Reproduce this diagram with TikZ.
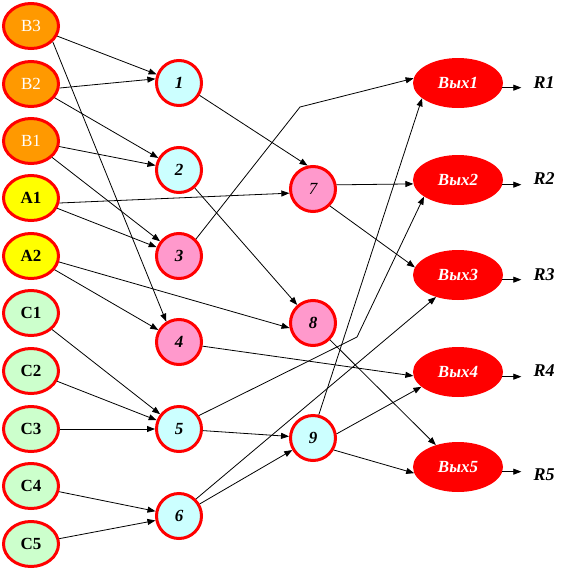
\documentclass[tikz,border=0pt]{standalone}
\usepackage{fontspec}
\setmainfont{Liberation Serif}
\usetikzlibrary{shapes.geometric,arrows.meta}
\definecolor{orng}{HTML}{FF9900}
\definecolor{yell}{HTML}{FFFF00}
\definecolor{grn}{HTML}{CCFFCC}
\definecolor{cyn}{HTML}{CCFFFF}
\definecolor{pnk}{HTML}{FF99CC}

\begin{document}
\begin{tikzpicture}[x=1pt,y=-1pt,
  inp/.style={ellipse,draw=red,line width=3pt,minimum width=55pt,minimum height=45pt,inner sep=0pt,font=\fontsize{17}{17}\selectfont\bfseries},
  hid/.style={circle,draw=red,line width=3pt,minimum size=45pt,inner sep=0pt,font=\fontsize{17}{17}\selectfont\bfseries\itshape},
  outp/.style={ellipse,fill=red,minimum width=90pt,minimum height=50pt,inner sep=0pt,text=white,font=\fontsize{17}{17}\selectfont\bfseries\itshape},
  res/.style={inner xsep=12pt,inner ysep=0pt,font=\fontsize{18}{18}\selectfont\bfseries\itshape},
  arr/.style={-{Triangle[length=8pt,width=6pt]},line width=0.8pt}]
\useasboundingbox (0,0) rectangle (570,571);

% inputs
\node[inp,fill=orng,text=white,font=\fontsize{17}{17}\selectfont] (b3) at (31,26) {B3};
\node[inp,fill=orng,text=white,font=\fontsize{17}{17}\selectfont] (b2) at (31,84) {B2};
\node[inp,fill=orng,text=white,font=\fontsize{17}{17}\selectfont] (b1) at (31,141) {B1};
\node[inp,fill=yell] (a1) at (31,198) {A1};
\node[inp,fill=yell] (a2) at (31,256) {A2};
\node[inp,fill=grn] (c1) at (31,313) {C1};
\node[inp,fill=grn] (c2) at (31,371) {C2};
\node[inp,fill=grn] (c3) at (31,429) {C3};
\node[inp,fill=grn] (c4) at (31,486) {C4};
\node[inp,fill=grn] (c5) at (31,544) {C5};

% first layer
\node[hid,fill=cyn] (n1) at (179,83) {1};
\node[hid,fill=cyn] (n2) at (179,170) {2};
\node[hid,fill=pnk] (n3) at (179,256) {3};
\node[hid,fill=pnk] (n4) at (179,342) {4};
\node[hid,fill=cyn] (n5) at (179,429) {5};
\node[hid,fill=cyn] (n6) at (179,516) {6};

% second layer
\node[hid,fill=pnk,font=\fontsize{17}{17}\selectfont\itshape] (n7) at (313,189) {7};
\node[hid,fill=pnk] (n8) at (313,323) {8};
\node[hid,fill=cyn] (n9) at (313,438) {9};

% outputs
\node[outp] (out1) at (458,83) {Вых1};
\node[outp] (out2) at (458,180) {Вых2};
\node[outp] (out3) at (458,275) {Вых3};
\node[outp] (out4) at (458,372) {Вых4};
\node[outp] (out5) at (458,467) {Вых5};

\node[res] (r1) at (544,83) {R1};
\node[res] (r2) at (544,179) {R2};
\node[res] (r3) at (544,275) {R3};
\node[res] (r4) at (544,371) {R4};
\node[res] (r5) at (544,475) {R5};

\coordinate (k3) at (300,107);
\coordinate (k5) at (357,337);

% inputs to first layer
\draw[arr] (b3) -- (n1);
\draw[arr] (b3.-36) -- (n4.122);
\draw[arr] (b2.-8) -- (n1.170);
\draw[arr] (b2) -- (n2);
\draw[arr] (b1) -- (n2);
\draw[arr] (b1) -- (n3);
\draw[arr] (a1.-10) -- (n7.190);
\draw[arr] (a1) -- (n3);
\draw[arr] (a2.-12) -- (n8.192);
\draw[arr] (a2) -- (n4);
\draw[arr] (c1) -- (n5);
\draw[arr] (c2) -- (n5);
\draw[arr] (c3) -- (n5);
\draw[arr] (c4) -- (n6);
\draw[arr] (c5) -- (n6);

% first layer onwards
\draw[arr] (n1.-31) -- (n7.103);
\draw[arr] (n2) -- (n8);
\draw[arr] (n3.45) -- (k3) -- (out1.174);
\draw[arr] (n4.-10) -- (out4.185);
\draw[arr] (n5.34) -- (k5) -- (out2.206);
\draw[arr] (n5) -- (n9);
\draw[arr] (n6.45) -- (out3.225);
\draw[arr] (n6) -- (n9);

% second layer onwards
\draw[arr] (n7.10) -- (out2.185);
\draw[arr] (n7.-45) -- (out3.170);
\draw[arr] (n8) -- (out5);
\draw[arr] (n9.76) -- (out1.203);
\draw[arr] (n9.10) -- (out4.202);
\draw[arr] (n9.-30) -- (out5.188);

% results
\draw[arr] (out1.-6) -- (out1.-6 -| r1.west);
\draw[arr] (out2.-6) -- (out2.-6 -| r2.west);
\draw[arr] (out3.-6) -- (out3.-6 -| r3.west);
\draw[arr] (out4.-6) -- (out4.-6 -| r4.west);
\draw[arr] (out5.-6) -- (out5.-6 -| r5.west);
\end{tikzpicture}
\end{document}
